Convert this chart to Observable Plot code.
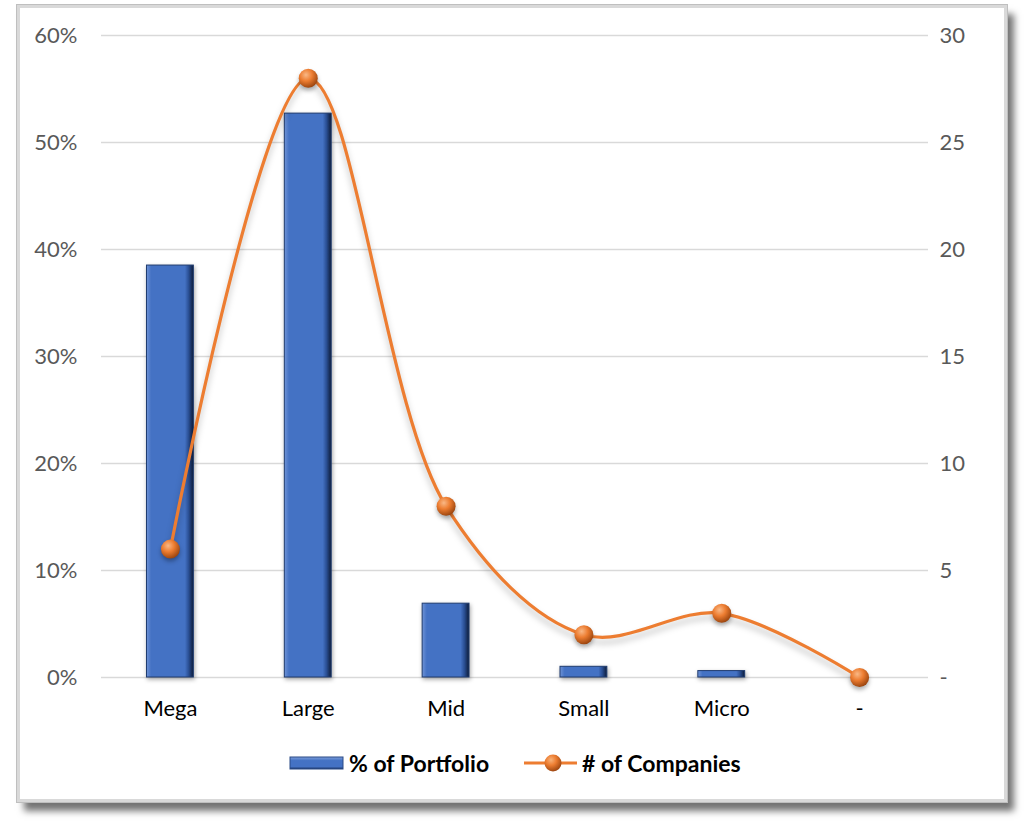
<!DOCTYPE html>
<html>
<head>
<meta charset="utf-8">
<script src="https://cdn.jsdelivr.net/npm/d3@7"></script>
<script src="https://cdn.jsdelivr.net/npm/@observablehq/plot@0.6"></script>
<style>
  html, body { margin: 0; padding: 0; background: #ffffff; width: 1024px; height: 831px; overflow: hidden; }
  #frame {
    position: absolute; left: 17px; top: 5px; width: 984px; height: 791px;
    border: 3px solid #d9d9d9; background: #fff;
    box-shadow: 7px 9px 7px rgba(0,0,0,0.55);
    outline: 1px solid #bfbfbf;
  }
  #chart { position: absolute; left: 0; top: 0; }
  #legend {
    position: absolute; left: 0; top: 749px; width: 1024px; height: 28px;
    font-family: Lato, "Open Sans", sans-serif; font-weight: bold; font-size: 23px; color: #000;
  }
  .lg { position: absolute; top: 0; line-height: 28px; white-space: nowrap; }
</style>
</head>
<body>
<div id="frame"></div>
<div id="chart"></div>
<div id="legend">
  <svg style="position:absolute;left:289px;top:7px" width="56" height="14">
    <defs>
      <linearGradient id="lgBar" x1="0" y1="0" x2="0" y2="1">
        <stop offset="0" stop-color="#7f9fdb"/>
        <stop offset="0.3" stop-color="#4472C4"/>
        <stop offset="0.8" stop-color="#4472C4"/>
        <stop offset="1" stop-color="#1b3566"/>
      </linearGradient>
    </defs>
    <rect x="1" y="1" width="53" height="12" fill="url(#lgBar)" stroke="#2a4a86" stroke-width="1"/>
  </svg>
  <span class="lg" style="left:349px">% of Portfolio</span>
  <svg style="position:absolute;left:522px;top:3px" width="58" height="24">
    <defs>
      <radialGradient id="lgDot" cx="0.38" cy="0.32" r="0.7">
        <stop offset="0" stop-color="#f7b27a"/>
        <stop offset="0.45" stop-color="#ED7D31"/>
        <stop offset="1" stop-color="#9c4510"/>
      </radialGradient>
    </defs>
    <line x1="2" y1="11" x2="55" y2="11" stroke="#ED7D31" stroke-width="3"/>
    <circle cx="31" cy="11" r="8.5" fill="url(#lgDot)"/>
  </svg>
  <span class="lg" style="left:582px"># of Companies</span>
</div>
<script>
const categories = ["Mega", "Large", "Mid", "Small", "Micro", "-"];
const portfolioPct = [0.385, 0.527, 0.069, 0.010, 0.006, 0.0];
const companies = [6, 28, 8, 2, 3, 0];
const leftTicks = [0, 0.1, 0.2, 0.3, 0.4, 0.5, 0.6];
const rightTicks = [0, 5, 10, 15, 20, 25, 30];
const rightMax = 30;
const leftMax = 0.6;

const rows = categories.map((c, i) => ({cat: c, pct: portfolioPct[i], n: companies[i]}));
const toLeft = n => n / rightMax * leftMax;

const font = "Lato, 'Open Sans', sans-serif";

const chart = Plot.plot({
  width: 1024,
  height: 740,
  marginLeft: 101,
  marginRight: 96,
  marginTop: 35,
  marginBottom: 63,
  style: {fontFamily: font, fontSize: "22px", color: "#595959", background: "transparent", overflow: "visible"},
  x: {domain: categories, paddingInner: 0.66, paddingOuter: 0.33, round: false, label: null},
  y: {domain: [0, leftMax], label: null},
  marks: [
    Plot.gridY(leftTicks, {stroke: "#d9d9d9", strokeOpacity: 1, strokeWidth: 1.3}),
    Plot.axisY({anchor: "left", ticks: leftTicks, tickSize: 0, tickPadding: 24,
      tickFormat: d => Math.round(d * 100) + "%", label: null}),
    Plot.axisY({anchor: "right", ticks: rightTicks.map(toLeft), tickSize: 0, tickPadding: 11,
      tickFormat: d => { const v = Math.round(d / leftMax * rightMax); return v === 0 ? "-" : String(v); }, label: null}),
    Plot.axisX({tickSize: 0, tickPadding: 23, label: null, fill: "#000"}),
    Plot.barY(rows, {x: "cat", y: "pct", fill: "url(#barGrad)", stroke: "#203c70", strokeWidth: 1}),
    Plot.line(rows, {x: "cat", y: d => toLeft(d.n), stroke: "#ED7D31", strokeWidth: 3.2, curve: "catmull-rom"}),
    Plot.dot(rows, {x: "cat", y: d => toLeft(d.n), r: 9.5, fill: "url(#dotGrad)", stroke: "none"})
  ]
});

// gradients for bevel/sphere look
const svg = d3.select(chart);
const defs = svg.insert("defs", ":first-child");
const bg = defs.append("linearGradient").attr("id", "barGrad").attr("x1", 0).attr("y1", 0).attr("x2", 1).attr("y2", 0);
bg.append("stop").attr("offset", 0).attr("stop-color", "#6f93d6");
bg.append("stop").attr("offset", 0.1).attr("stop-color", "#4472C4");
bg.append("stop").attr("offset", 0.82).attr("stop-color", "#4472C4");
bg.append("stop").attr("offset", 0.9).attr("stop-color", "#2a4f94");
bg.append("stop").attr("offset", 1).attr("stop-color", "#0d1b38");
const dg = defs.append("radialGradient").attr("id", "dotGrad").attr("cx", 0.38).attr("cy", 0.32).attr("r", 0.72);
dg.append("stop").attr("offset", 0).attr("stop-color", "#f9b886");
dg.append("stop").attr("offset", 0.45).attr("stop-color", "#ED7D31");
dg.append("stop").attr("offset", 1).attr("stop-color", "#96410c");

svg.selectAll("g[aria-label='bar']").style("filter", "drop-shadow(1px 2px 2px rgba(0,0,0,0.35))");
svg.selectAll("g[aria-label='line']").style("filter", "drop-shadow(0px 5px 3px rgba(0,0,0,0.25))");
svg.selectAll("g[aria-label='dot']").style("filter", "drop-shadow(0px 3px 2px rgba(0,0,0,0.3))");

document.getElementById("chart").appendChild(chart);
</script>
</body>
</html>
